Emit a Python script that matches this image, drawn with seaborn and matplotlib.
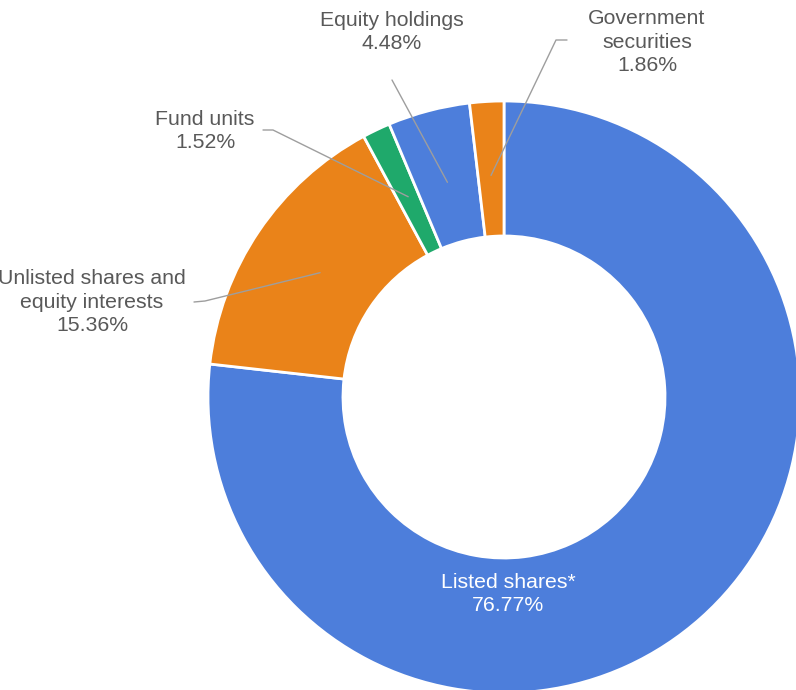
import numpy as np
import seaborn as sns
from matplotlib import pyplot as plt

# portfolio breakdown (clockwise from 12 o'clock)
categories = ["Listed shares*", "Unlisted shares and\nequity interests", "Fund units",
              "Equity holdings", "Government\nsecurities"]
shares = [76.77, 15.36, 1.52, 4.48, 1.86]
pct_labels = ["76.77%", "15.36%", "1.52%", "4.48%", "1.86%"]
colors = ["#4D7EDB", "#EA8319", "#1FA96B", "#4D7EDB", "#EA8319"]

sns.set_theme(style="white")
plt.rcParams['font.family'] = ['Liberation Sans', 'DejaVu Sans']

W, H = 796, 690
cx, cy, R = 504, 397, 296

fig = plt.figure(figsize=(W / 100, H / 100), dpi=100)
ax = fig.add_axes([(cx - R) / W, (H - cy - R) / H, 2 * R / W, 2 * R / H])


def px(x, y):
    # pixel position (from top-left) -> data coords of the pie axes
    return (x - cx) / R, (cy - y) / R


ax.pie(shares, startangle=90, counterclock=False, colors=colors,
       wedgeprops=dict(width=0.456, edgecolor="white", linewidth=2))
ax.set_xlim(-1, 1)
ax.set_ylim(-1, 1)
ax.set_aspect("equal")
ax.axis("off")

fracs = np.array(shares) / np.sum(shares)
starts = np.concatenate([[0], np.cumsum(fracs)[:-1]])
mids = np.deg2rad(90 - 360 * (starts + fracs / 2))

txt_gray = "#595959"
line_gray = "#9E9E9E"
fs = 15.3
lsp = 1.33

# listed shares label sits inside the ring
ax.text(*px(508, 594), categories[0] + "\n" + pct_labels[0], color="white",
        fontsize=fs, ha="center", va="center", linespacing=lsp)

# outside labels: text centre and leader elbow (pixels)
layout = {
    1: dict(text=(92, 302), elbow=[(205, 301), (194, 302)]),
    2: dict(text=(205, 131), elbow=[(273, 130), (263, 130)]),
    3: dict(text=(392, 32), elbow=[(392, 80)]),
    4: dict(text=(647, 42), elbow=[(556, 40), (567, 40)]),
}
for i, spec in layout.items():
    ax.text(*px(*spec["text"]), categories[i] + "\n" + pct_labels[i], color=txt_gray,
            fontsize=fs, ha="center", va="center", linespacing=lsp)
    ax_pts = [(0.75 * np.cos(mids[i]), 0.75 * np.sin(mids[i]))] + [px(*p) for p in spec["elbow"]]
    xs, ys = zip(*ax_pts)
    ax.plot(xs, ys, color=line_gray, lw=1, clip_on=False)

fig.savefig("out.png", dpi=100)
